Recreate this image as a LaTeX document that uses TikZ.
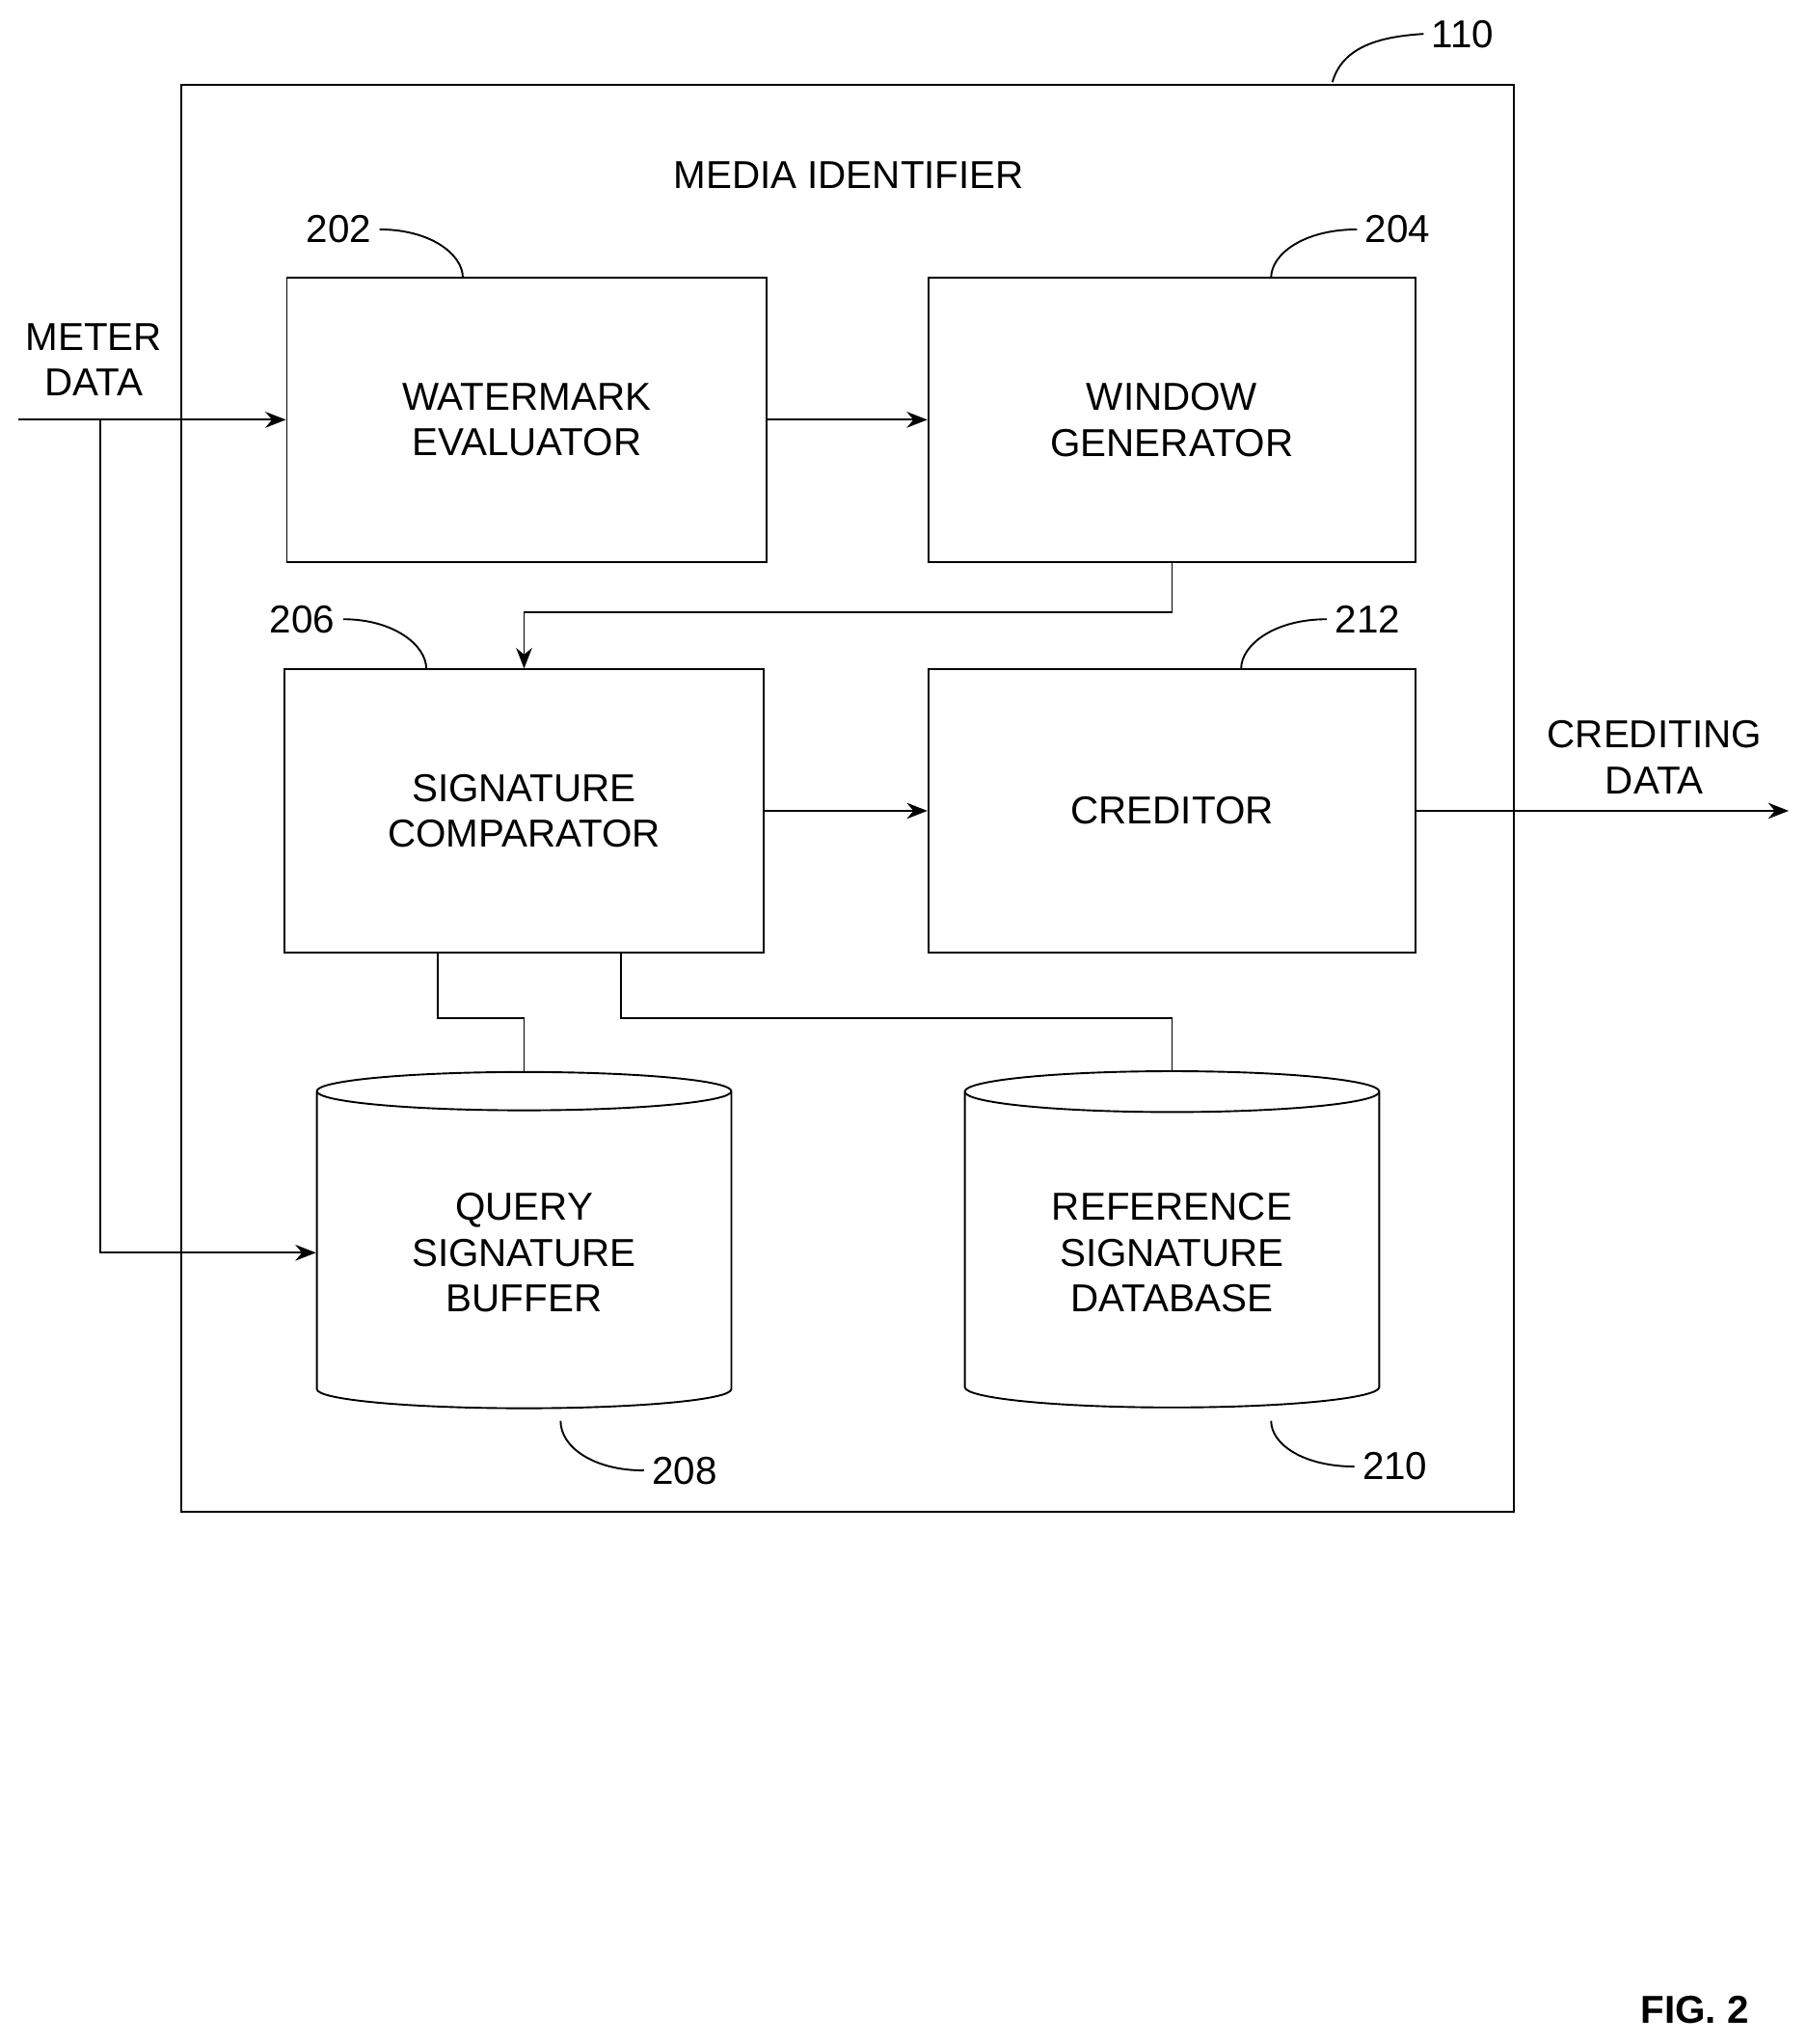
\documentclass[tikz,border=0pt]{standalone}
\usepackage{fontspec}
\setmainfont{Liberation Sans}
\usetikzlibrary{arrows.meta,shapes.geometric}

\tikzset{
  blk/.style={draw, thick, align=center, font=\fontsize{17}{20}\selectfont},
  db/.style={draw, thick, cylinder, shape border rotate=90, aspect=0.16,
    minimum width=6.36cm, minimum height=5.16cm, align=center,
    font=\fontsize{17}{20}\selectfont},
  lbl/.style={font=\fontsize{17}{20}\selectfont},
  flow/.style={thick, -{Stealth[length=9pt,width=7pt]}},
  lead/.style={thick}
}

\begin{document}
\begin{tikzpicture}[x=0.02cm, y=-0.02cm]
\useasboundingbox (0,0) rectangle (1386,1568);

% outer box
\draw[thick] (139,65) rectangle (1161,1160);
\node[lbl] (n110) at (1122,26) {110};
\draw[lead] (1022,63) .. controls (1030,35) and (1060,28) .. (n110.west);
\node[lbl] (title) at (651,134) {MEDIA IDENTIFIER};

% blocks
\node[blk, minimum width=7.36cm, minimum height=4.36cm] (wm) at (404,322) {WATERMARK\\EVALUATOR};
\node[blk, minimum width=7.48cm, minimum height=4.36cm] (win) at (899,322) {WINDOW\\GENERATOR};
\node[blk, minimum width=7.36cm, minimum height=4.34cm] (sig) at (402,622) {SIGNATURE\\COMPARATOR};
\node[blk, minimum width=7.48cm, minimum height=4.34cm] (cred) at (899,622) {CREDITOR};
\node[db] (qsb) at (402,961) {QUERY\\SIGNATURE\\BUFFER};
\node[db] (rsd) at (899,961) {REFERENCE\\SIGNATURE\\DATABASE};

% reference numerals
\node[lbl] (n202) at (260,176) {202};
\draw[lead] (n202.east) .. controls (330,176) and (355,195) .. (355,213);
\node[lbl] (n204) at (1072,176) {204};
\draw[lead] (975,213) .. controls (975,195) and (1000,176) .. (n204.west);
\node[lbl] (n206) at (232,475) {206};
\draw[lead] (n206.east) .. controls (302,475) and (327,495) .. (327,513);
\node[lbl] (n212) at (1049,475) {212};
\draw[lead] (952,513) .. controls (952,495) and (977,475) .. (n212.west);
\node[lbl] (n208) at (525,1128) {208};
\draw[lead] (430,1090) .. controls (430,1110) and (455,1128) .. (n208.west);
\node[lbl] (n210) at (1070,1125) {210};
\draw[lead] (975,1090) .. controls (975,1108) and (1000,1125) .. (n210.west);

% inputs and outputs
\node[lbl, align=center] (meter) at (72,276) {METER\\DATA};
\coordinate (in) at (14,322);
\coordinate (tap) at (77,322);
\draw[flow] (in) -- (wm.west);
\draw[flow] (tap) |- (qsb.west);
\node[lbl, align=center] (credtxt) at (1269,581) {CREDITING\\DATA};
\coordinate (out) at (1372,622);
\draw[flow] (cred.east) -- (out);

% internal flows
\draw[flow] (wm.east) -- (win.west);
\draw[flow] (win.south) -- ++(0,38) -| (sig.north);
\draw[flow] (sig.east) -- (cred.west);
\draw[thick] ([xshift=-1.32cm]sig.south) -- ++(0,50) -| (qsb.north);
\draw[thick] ([xshift=1.48cm]sig.south) -- ++(0,50) -| (rsd.north);

\node[font=\bfseries\fontsize{17}{20}\selectfont] (fig) at (1300,1542) {FIG. 2};
\end{tikzpicture}
\end{document}
